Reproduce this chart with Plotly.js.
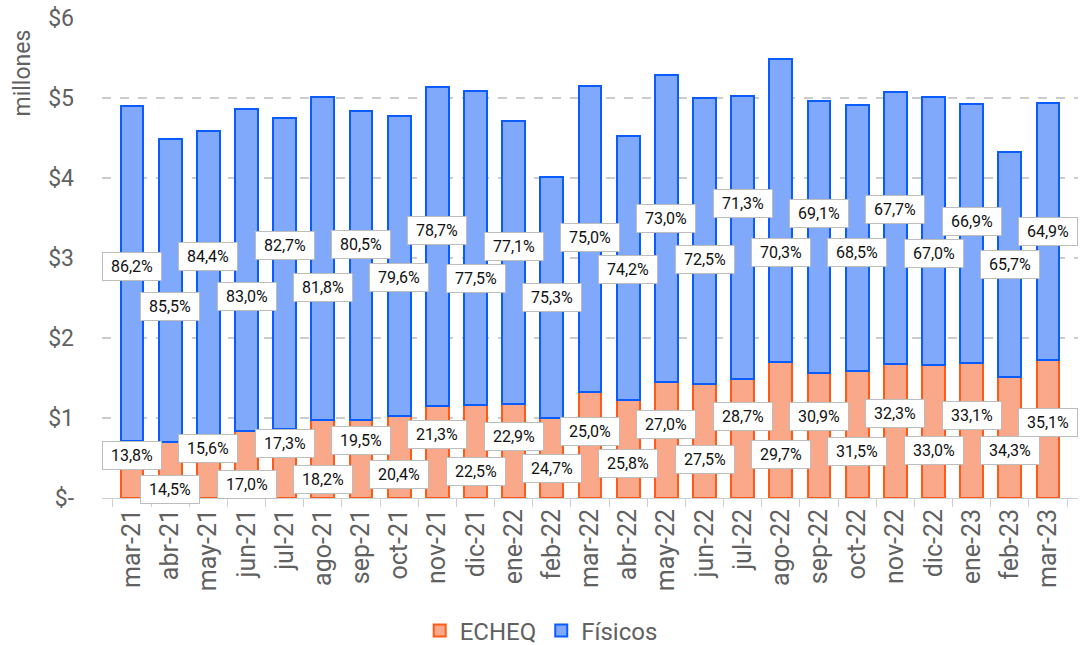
<!DOCTYPE html>
<html>
<head>
<meta charset="utf-8">
<script src="https://cdn.plot.ly/plotly-3.0.1.min.js"></script>
<style>html,body{margin:0;padding:0;background:#fff;}#chart{width:1090px;height:645px;}</style>
</head>
<body>
<div id="chart"></div>
<script>
// ---- data (millones de $) ----
const categories = ['mar-21','abr-21','may-21','jun-21','jul-21','ago-21','sep-21','oct-21','nov-21','dic-21','ene-22','feb-22','mar-22','abr-22','may-22','jun-22','jul-22','ago-22','sep-22','oct-22','nov-22','dic-22','ene-23','feb-23','mar-23'];
const echeqValues = [0.71,0.70,0.78,0.84,0.86,0.975,0.98,1.025,1.15,1.16,1.17,1.00,1.32,1.22,1.45,1.43,1.49,1.70,1.56,1.59,1.67,1.66,1.69,1.51,1.73];
const fisicosValues = [4.19,3.79,3.81,4.02,3.89,4.035,3.86,3.755,3.99,3.93,3.54,3.01,3.83,3.31,3.84,3.57,3.54,3.79,3.40,3.32,3.41,3.35,3.24,2.82,3.21];
const echeqPct = ['13,8%','14,5%','15,6%','17,0%','17,3%','18,2%','19,5%','20,4%','21,3%','22,5%','22,9%','24,7%','25,0%','25,8%','27,0%','27,5%','28,7%','29,7%','30,9%','31,5%','32,3%','33,0%','33,1%','34,3%','35,1%'];
const fisicosPct = ['86,2%','85,5%','84,4%','83,0%','82,7%','81,8%','80,5%','79,6%','78,7%','77,5%','77,1%','75,3%','75,0%','74,2%','73,0%','72,5%','71,3%','70,3%','69,1%','68,5%','67,7%','67,0%','66,9%','65,7%','64,9%'];
const yTickVals = [0,1,2,3,4,5,6];
const yTickText = ['$-','$1','$2','$3','$4','$5','$6'];

// ---- layout constants ----
const W = 1090, H = 645;
const M = {l: 102, r: 12, t: 18, b: 147, autoexpand: false};
const YMAX = 6;
const PH = H - M.t - M.b;
const PW = W - M.l - M.r;
const ppu = PH / YMAX;
const FONT = 'Roboto, "Open Sans", Arial, sans-serif';
const GREY = '#616161';

// label de-overlap: zig-zag relaxation in pixel space
function relax(mids, minSep) {
  const p = mids.map(v => -v * ppu);
  for (let it = 0; it < 400; it++) {
    for (let i = 1; i < p.length; i++) {
      const upper = (i % 2 === 0) ? i : i - 1;
      const lower = (i % 2 === 0) ? i - 1 : i;
      const d = p[lower] - p[upper];
      if (d < minSep) {
        const push = (minSep - d) / 2;
        p[upper] -= push;
        p[lower] += push;
      }
    }
  }
  return p.map((v, i) => v - (-mids[i] * ppu));
}

const echeqMid = echeqValues.map(v => v / 2);
const fisMid = fisicosValues.map((v, i) => echeqValues[i] + v / 2);
const echeqShift = relax(echeqMid, 28);
const fisShift = relax(fisMid, 32);

const annotations = [];
function addLabels(mids, shifts, texts) {
  mids.forEach((m, i) => {
    annotations.push({
      x: categories[i], y: m, xref: 'x', yref: 'y',
      yshift: -shifts[i],
      text: texts[i], showarrow: false,
      width: 50, height: 19,
      font: {family: FONT, size: 16, color: '#111'},
      bgcolor: '#ffffff', bordercolor: '#bdbdbd', borderwidth: 1, borderpad: 4
    });
  });
}
addLabels(echeqMid, echeqShift, echeqPct);
addLabels(fisMid, fisShift, fisicosPct);

annotations.push({
  text: 'millones', xref: 'paper', yref: 'paper',
  x: (22 - M.l) / PW, y: (H - M.b - 28) / PH,
  xanchor: 'center', yanchor: 'top', textangle: -90, showarrow: false,
  font: {family: FONT, size: 23, color: GREY}
});

const traces = [
  {
    type: 'bar', name: 'ECHEQ', x: categories, y: echeqValues,
    marker: {color: '#f9a88a', line: {color: '#ff5a1a', width: 2}},
    width: 0.6, hoverinfo: 'skip'
  },
  {
    type: 'bar', name: 'Físicos', x: categories, y: fisicosValues,
    marker: {color: '#80a9fb', line: {color: '#0b5cff', width: 2}},
    width: 0.6, hoverinfo: 'skip'
  }
];

const layout = {
  width: W, height: H,
  margin: M,
  paper_bgcolor: '#ffffff', plot_bgcolor: '#ffffff',
  barmode: 'stack',
  showlegend: true,
  legend: {
    orientation: 'h', x: 0.45, xanchor: 'center', xref: 'paper',
    y: -133 / PH, yanchor: 'middle', yref: 'paper',
    traceorder: 'normal',
    font: {family: FONT, size: 24, color: GREY},
    itemwidth: 30
  },
  xaxis: {
    type: 'category', tickangle: -90,
    tickfont: {family: FONT, size: 25, color: GREY},
    ticks: 'outside', tickson: 'boundaries', ticklen: 8, tickcolor: '#d0d0d0',
    showline: true, linecolor: '#d0d0d0', linewidth: 1,
    showgrid: false, fixedrange: true
  },
  yaxis: {
    range: [0, YMAX], tickvals: yTickVals, ticktext: yTickText,
    tickfont: {family: FONT, size: 23, color: GREY},
    showgrid: true, gridcolor: '#cccccc', griddash: 'dash', gridwidth: 1.3,
    zeroline: false, showline: false, ticks: '', ticklabelstandoff: 27,
    fixedrange: true
  },
  annotations: annotations
};

Plotly.newPlot('chart', traces, layout, {displayModeBar: false, staticPlot: true});
</script>
</body>
</html>
